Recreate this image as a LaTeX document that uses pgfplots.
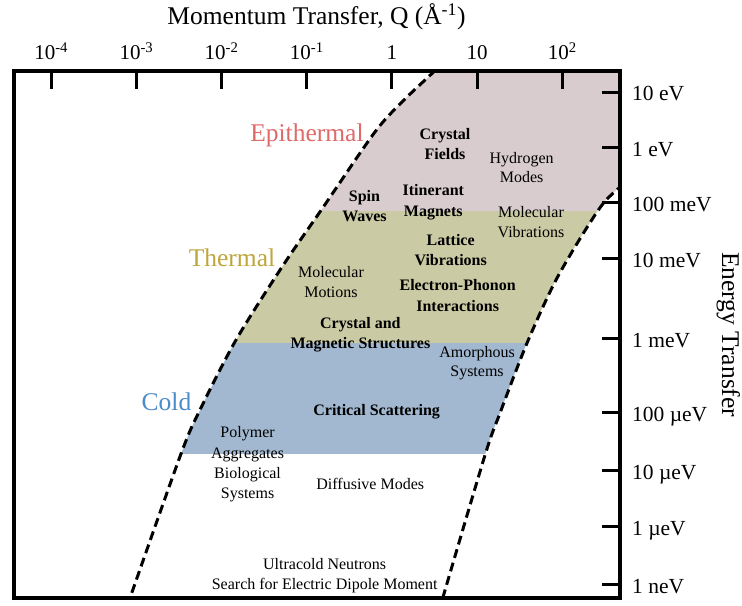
\documentclass[border=0pt]{standalone}
\usepackage{fontspec}
\setmainfont{Liberation Serif}
\usepackage{pgfplots}
\pgfplotsset{compat=1.18}
\definecolor{epifill}{HTML}{D8CCCE}
\definecolor{thermfill}{HTML}{CACAA4}
\definecolor{coldfill}{HTML}{A2B8D0}
\definecolor{epitext}{HTML}{E06A6A}
\definecolor{thermtext}{HTML}{BFA63C}
\definecolor{coldtext}{HTML}{4A8BC9}
\tikzset{
  bl/.style={anchor=base, inner sep=0pt, font=\fontsize{16bp}{19bp}\selectfont\bfseries},
  nl/.style={anchor=base, inner sep=0pt, font=\fontsize{16bp}{19bp}\selectfont},
  big/.style={anchor=base, inner sep=0pt, font=\fontsize{25.5bp}{30bp}\selectfont},
}
\begin{document}
\begin{tikzpicture}
\path[use as bounding box] (-13.5bp,-8bp) rectangle (728.5bp,598bp);
\begin{axis}[name=ax, at={(0,0)}, anchor=south west,
  scale only axis, width=606bp, height=526.5bp,
  xmin=-4.442, xmax=2.670, ymin=0, ymax=526.5,
  axis on top,
  axis line style={line width=4bp},
  tick align=inside, major tick length=18bp,
  every tick/.style={black, line width=3bp},
  xtick pos=right, xticklabel pos=right,
  ytick pos=right, yticklabel pos=right,
  xtick={-4,-3,-2,-1,0,1,2},
  xticklabels={10\textsuperscript{-4},10\textsuperscript{-3},10\textsuperscript{-2},10\textsuperscript{-1},1,10,10\textsuperscript{2}},
  ytick={505.7,450,395,339,259.3,185,127.3,71,13},
  yticklabels={10 eV,1 eV,100 meV,10 meV,1 meV,100 µeV,10 µeV,1 µeV,1 neV},
  xticklabel style={anchor=base, yshift=11.5bp, inner sep=0pt, font=\fontsize{21bp}{25bp}\selectfont},
  yticklabel style={anchor=base west, xshift=12.5bp, yshift=-8.4bp, inner sep=0pt, font=\fontsize{21.5bp}{25bp}\selectfont},
  xlabel={Momentum Transfer, Q (Å\textsuperscript{-1})},
  xlabel style={at={(axis description cs:0.5,1)}, anchor=base, yshift=46.5bp, inner sep=0pt, font=\fontsize{25.5bp}{30bp}\selectfont},
]
% energy bands (full width, trimmed by the white exterior below)
\addplot[fill=epifill, draw=none] coordinates {(-5,387) (7,387) (7,640) (-5,640)};
\addplot[fill=thermfill, draw=none] coordinates {(-5,255.3) (7,255.3) (7,387) (-5,387)};
\addplot[fill=coldfill, draw=none] coordinates {(-5,143.5) (7,143.5) (7,255.3) (-5,255.3)};
% white exterior left of the left boundary
\addplot[fill=white, draw=none, smooth] coordinates {
  (0.857,558) (0.493,526.5) (0.141,498) (-0.200,466) (-0.822,389) (-1.291,331)
  (-1.831,258) (-2.254,188) (-2.477,144) (-3.075,0) (-3.200,-32) (-6,-32) (-6,558)};
% white exterior right of the right boundary
\addplot[fill=white, draw=none, smooth] coordinates {
  (5.96,628) (4.67,558) (3.38,460) (2.664,410) (2.406,386) (1.937,320)
  (1.585,255) (1.268,185) (1.092,143) (0.599,1) (0.49,-32) (9,-32) (9,628)};
% boundary curves (log10 Q, plot position of energy)
\addplot[black, line width=3bp, dash pattern=on 9bp off 5bp, smooth] coordinates {
  (0.857,558) (0.493,526.5) (0.141,498) (-0.200,466) (-0.822,389) (-1.291,331)
  (-1.831,258) (-2.254,188) (-2.477,144) (-3.075,0) (-3.200,-32)};
\addplot[black, line width=3bp, dash pattern=on 9bp off 5bp, smooth] coordinates {
  (5.96,628) (4.67,558) (3.38,460) (2.664,410) (2.406,386) (1.937,320)
  (1.585,255) (1.268,185) (1.092,143) (0.599,1) (0.49,-32)};

\node[big, text=epitext] at (axis cs:-0.998,456.3) {Epithermal};
\node[big, text=thermtext] at (axis cs:-1.878,331.3) {Thermal};
\node[big, text=coldtext] at (axis cs:-2.647,187) {Cold};

\node[bl] at (axis cs:0.622,458) {Crystal};
\node[bl] at (axis cs:0.622,438.5) {Fields};
\node[nl] at (axis cs:1.522,434.7) {Hydrogen};
\node[nl] at (axis cs:1.522,415.3) {Modes};
\node[bl] at (axis cs:-0.323,396) {Spin};
\node[bl] at (axis cs:-0.323,376) {Waves};
\node[bl] at (axis cs:0.485,402) {Itinerant};
\node[bl] at (axis cs:0.485,381.3) {Magnets};
\node[nl] at (axis cs:1.631,380.3) {Molecular};
\node[nl] at (axis cs:1.631,360.3) {Vibrations};
\node[bl] at (axis cs:0.689,352) {Lattice};
\node[bl] at (axis cs:0.689,332) {Vibrations};
\node[bl] at (axis cs:0.771,307) {Electron-Phonon};
\node[bl] at (axis cs:0.771,286.3) {Interactions};
\node[nl] at (axis cs:-0.716,320.7) {Molecular};
\node[nl] at (axis cs:-0.716,300.7) {Motions};
\node[bl] at (axis cs:-0.371,269.7) {Crystal and};
\node[bl] at (axis cs:-0.371,249) {Magnetic Structures};
\node[nl] at (axis cs:0.998,240.7) {Amorphous};
\node[nl] at (axis cs:0.998,221.3) {Systems};
\node[bl] at (axis cs:-0.180,182) {Critical Scattering};
\node[nl] at (axis cs:-1.695,160.7) {Polymer};
\node[nl] at (axis cs:-1.695,139.7) {Aggregates};
\node[nl] at (axis cs:-1.695,119) {Biological};
\node[nl] at (axis cs:-1.695,99.7) {Systems};
\node[nl] at (axis cs:-0.255,108) {Diffusive Modes};
\node[nl] at (axis cs:-0.790,28.7) {Ultracold Neutrons};
\node[nl] at (axis cs:-0.790,8.7) {Search for Electric Dipole Moment};
\end{axis}
\node[rotate=-90, anchor=base, inner sep=0pt, font=\fontsize{25.5bp}{30bp}\selectfont] at ([xshift=102.5bp]ax.east) {Energy Transfer};
\end{tikzpicture}
\end{document}
